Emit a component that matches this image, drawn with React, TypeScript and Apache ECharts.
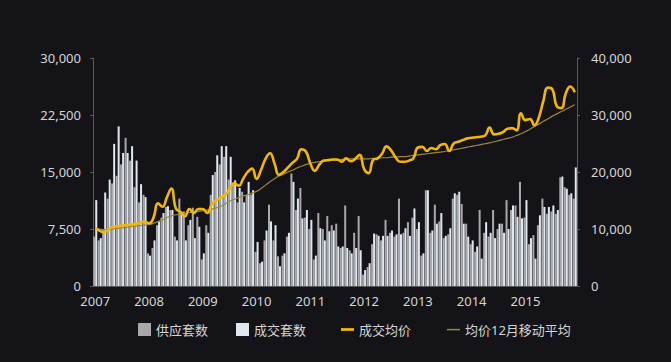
import React, { useEffect, useRef } from "react";
import * as echarts from "echarts";

const years = ["2007", "2008", "2009", "2010", "2011", "2012", "2013", "2014", "2015"];
const monthNames = ["01", "02", "03", "04", "05", "06", "07", "08", "09", "10", "11", "12"];
const categories: string[] = years.flatMap((y) => monthNames.map((m) => `${y}-${m}`));

const seriesNames = ["供应套数", "成交套数", "成交均价", "均价12月移动平均"];

// 供应套数 (supply units), monthly
const supply = [
  6500, 6000, 7500, 11500, 13500, 14500, 16000, 19500, 16500, 13000, 11000, 12000,
  4300, 5000, 8000, 9000, 10400, 10000, 6500, 11500, 9800, 8000, 10300, 9100,
  3500, 8000, 12000, 15000, 16000, 17000, 14000, 13500, 11000, 12400, 12000, 12000,
  4500, 3000, 6000, 10700, 6000, 3900, 4000, 6500, 14800, 10000, 12900, 9000,
  7500, 3500, 9600, 7500, 9200, 8000, 8200, 5000, 10600, 4700, 7000, 9200,
  1500, 2500, 5500, 6800, 6000, 8700, 7000, 6500, 11500, 7000, 8400, 9000,
  7500, 4000, 12600, 7000, 10700, 8500, 6300, 6800, 11500, 12000, 10800, 8200,
  5500, 4500, 10000, 7000, 6500, 10000, 7500, 8200, 11300, 10000, 10600, 13700,
  9000, 5500, 6700, 8000, 11500, 9500, 9800, 9500, 14300, 13000, 12000, 11500,
];

// 成交套数 (transaction units), monthly
const deal = [
  11300, 6300, 12300, 14000, 18700, 21000, 17500, 17500, 18400, 16500, 13400, 11700,
  4000, 6000, 8500, 9600, 10500, 10000, 6000, 9800, 6000, 8700, 6300, 7800,
  4300, 7000, 14600, 17200, 18400, 18400, 17000, 13900, 12900, 11000, 13700, 12600,
  5800, 3200, 7300, 8500, 8000, 2600, 4300, 7000, 13700, 11500, 8900, 10000,
  8700, 4000, 7600, 6000, 7200, 7300, 5200, 5200, 5000, 4300, 5000, 4700,
  2100, 3000, 6900, 6600, 6600, 6600, 7300, 6800, 6800, 7600, 6600, 10200,
  8400, 4300, 12600, 7300, 8200, 9600, 6600, 7600, 12200, 12400, 8200, 6500,
  6000, 5200, 3600, 8400, 7000, 6300, 8200, 7000, 7500, 10600, 9100, 8900,
  11300, 6300, 3600, 9300, 10400, 10400, 10600, 10000, 14400, 12800, 12200, 15600,
];

// 成交均价 (average price), monthly
const price = [
  10100, 9700, 9400, 10000, 10400, 10500, 10600, 10700, 10800, 10900, 11100, 11300,
  11000, 12000, 14500, 13900, 15600, 17100, 13600, 13000, 12200, 13500, 12800, 13500,
  13500, 12800, 14300, 15000, 15500, 16000, 17000, 18000, 17600, 18800, 20000, 20600,
  18800, 20400, 22300, 23300, 21500, 19500, 20000, 20800, 21600, 22300, 24000, 23600,
  21500, 20200, 21300, 22000, 22100, 22200, 22200, 21800, 22400, 21900, 22300, 23000,
  20500, 19800, 22100, 22400, 23200, 24500, 23800, 22600, 21800, 21800, 22000, 22400,
  24300, 24400, 23700, 24200, 24000, 24700, 24900, 23700, 25000, 25300, 25600, 25900,
  26000, 26100, 26200, 26400, 27800, 26600, 26700, 27000, 27600, 27700, 27300, 30300,
  29100, 29300, 28200, 29600, 32500, 34800, 34500, 31500, 31200, 33800, 35000, 34000,
];

// 均价12月移动平均 (12-month moving average of price)
const priceMA = [
  10100, 10000, 9900, 9900, 10000, 10100, 10200, 10300, 10400, 10500, 10600, 10700,
  10800, 11000, 11300, 11600, 12000, 12300, 12500, 12600, 12700, 12900, 13000, 13100,
  13200, 13300, 13500, 13700, 14000, 14400, 14900, 15200, 15500, 15800, 16000, 16300,
  16600, 17100, 17700, 18300, 18800, 19300, 19600, 20000, 20300, 20700, 21000, 21300,
  21500, 21700, 21800, 21900, 22000, 22100, 22100, 22200, 22200, 22300, 22300, 22300,
  22300, 22300, 22400, 22400, 22500, 22500, 22600, 22600, 22700, 22700, 22800, 22900,
  23000, 23100, 23200, 23300, 23400, 23500, 23600, 23750, 23900, 24050, 24200, 24350,
  24500, 24650, 24800, 24950, 25100, 25300, 25500, 25700, 25900, 26100, 26400, 26700,
  27100, 27500, 28000, 28400, 28900, 29300, 29800, 30200, 30600, 31000, 31400, 31800,
];

const leftTicks = { min: 0, max: 30000, interval: 7500 };
const rightTicks = { min: 0, max: 40000, interval: 10000 };

const BG = "#131318";
const GRAY = "#a9a7a7";
const LIGHT = "#dfe8f2";
const GOLD = "#f2b705";
const MA_COLOR = "#9a8742";
const TEXT = "#d6d6d6";
const FONT = '"Noto Sans", "Noto Sans CJK SC", sans-serif';

const fmt = (v: number) => v.toLocaleString("en-US");

export default function App() {
  const ref = useRef<HTMLDivElement>(null);

  useEffect(() => {
    if (!ref.current) return;
    const chart = echarts.init(ref.current, undefined, { renderer: "svg" });
    const legendText = { color: TEXT, fontSize: 13, fontFamily: FONT };
    const legendBase = { top: 318, itemWidth: 13, itemHeight: 13, itemGap: 6, textStyle: legendText, selectedMode: false as const };
    chart.setOption({
      animation: false,
      backgroundColor: BG,
      textStyle: { fontFamily: FONT },
      grid: { left: 93, right: 94, top: 58, bottom: 76, containLabel: false },
      legend: [
        { ...legendBase, left: 133, data: [{ name: seriesNames[0], icon: "rect" }] },
        { ...legendBase, left: 231, data: [{ name: seriesNames[1], icon: "rect" }] },
        { ...legendBase, left: 336, data: [{ name: seriesNames[2], icon: "path://M0,0M0,5.5h14v3h-14zM14,14" }] },
        { ...legendBase, left: 442, data: [{ name: seriesNames[3], icon: "path://M0,0M0,6.3h14v1.6h-14zM14,14" }] },
      ],
      xAxis: {
        type: "category",
        data: categories,
        boundaryGap: true,
        axisLine: { show: true, lineStyle: { color: "#555" } },
        axisTick: { show: false },
        axisLabel: {
          interval: 11,
          formatter: (v: string) => v.slice(0, 4),
          color: TEXT,
          fontSize: 13,
          fontFamily: FONT,
          margin: 8,
        },
        splitLine: { show: false },
      },
      yAxis: [
        {
          type: "value",
          ...leftTicks,
          axisLine: { show: true, lineStyle: { color: "#5a5a5a" } },
          axisTick: { show: true, length: 3, lineStyle: { color: "#5a5a5a" } },
          axisLabel: { color: TEXT, fontSize: 13, fontFamily: FONT, margin: 12, formatter: fmt },
          splitLine: { show: false },
        },
        {
          type: "value",
          ...rightTicks,
          position: "right",
          axisLine: { show: true, lineStyle: { color: "#5a5a5a" } },
          axisTick: { show: true, length: 3, lineStyle: { color: "#5a5a5a" } },
          axisLabel: { color: TEXT, fontSize: 13, fontFamily: FONT, margin: 14, formatter: fmt },
          splitLine: { show: false },
        },
      ],
      series: [
        {
          name: seriesNames[0],
          type: "bar",
          yAxisIndex: 0,
          data: supply,
          itemStyle: { color: GRAY },
          barGap: "0%",
          barCategoryGap: "10%",
        },
        {
          name: seriesNames[1],
          type: "bar",
          yAxisIndex: 0,
          data: deal,
          itemStyle: { color: LIGHT },
          barGap: "0%",
          barCategoryGap: "10%",
        },
        {
          name: seriesNames[2],
          type: "line",
          yAxisIndex: 1,
          data: price,
          smooth: true,
          symbol: "none",
          itemStyle: { color: GOLD },
          lineStyle: { color: GOLD, width: 2.6 },
          z: 5,
        },
        {
          name: seriesNames[3],
          type: "line",
          yAxisIndex: 1,
          data: priceMA,
          smooth: true,
          symbol: "none",
          itemStyle: { color: MA_COLOR },
          lineStyle: { color: MA_COLOR, width: 1.2 },
          z: 4,
        },
      ],
    });
    return () => chart.dispose();
  }, []);

  return (
    <div
      ref={ref}
      style={{ position: "fixed", left: 0, top: 0, width: 671, height: 362, background: BG }}
    />
  );
}
